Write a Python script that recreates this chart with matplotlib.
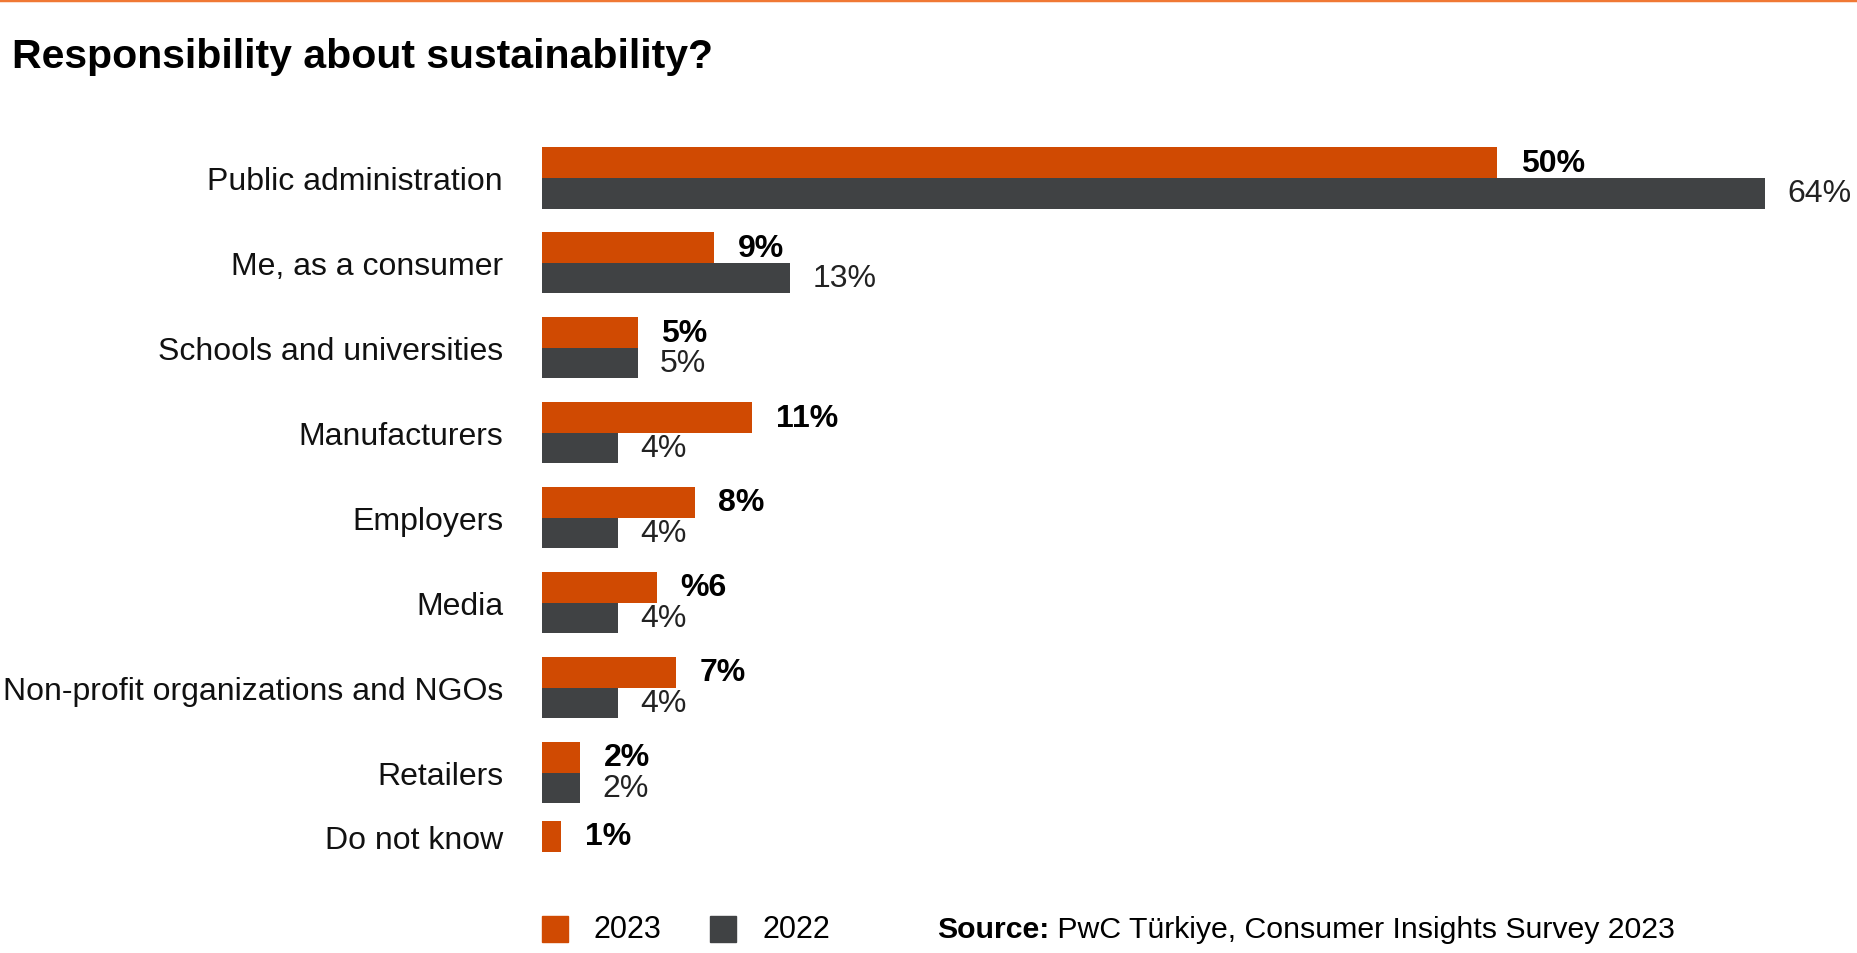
import numpy as np
import matplotlib.pyplot as plt
from matplotlib.patches import Rectangle
from matplotlib.lines import Line2D

plt.rcParams['font.family'] = ['Liberation Sans', 'DejaVu Sans']

# data
categories = ['Public administration', 'Me, as a consumer', 'Schools and universities',
              'Manufacturers', 'Employers', 'Media', 'Non-profit organizations and NGOs',
              'Retailers', 'Do not know']
share_2023 = np.array([50, 9, 5, 11, 8, 6, 7, 2, 1], dtype=float)
share_2022 = np.array([64, 13, 5, 4, 4, 4, 4, 2, np.nan])
labels_2023 = ['50%', '9%', '5%', '11%', '8%', '%6', '7%', '2%', '1%']
labels_2022 = ['64%', '13%', '5%', '4%', '4%', '4%', '4%', '2%', '']

orange = '#D04A02'
dark = '#404244'
top_line = '#F07834'

W, H = 1857, 954
fig = plt.figure(figsize=(W / 100, H / 100), dpi=100)
ax = fig.add_axes([542 / W, 53 / H, (1765 - 542) / W, 773 / H])

y = np.arange(len(categories), dtype=float)
y[-1] -= 0.25  # last row has only one bar, so it sits a bit closer
h = 0.36
has22 = ~np.isnan(share_2022)
y23 = np.where(has22, y - h / 2, y)
y22 = y + h / 2

ax.barh(y23, share_2023, height=h, color=orange)
ax.barh(y22[has22], share_2022[has22], height=h, color=dark)

for i in range(len(categories)):
    ax.annotate(labels_2023[i], xy=(share_2023[i], y23[i]), xytext=(17, 0),
                textcoords='offset points', va='center', ha='left',
                fontsize=23, fontweight='bold', color='black')
    if has22[i]:
        ax.annotate(labels_2022[i], xy=(share_2022[i], y22[i]), xytext=(16, 0),
                    textcoords='offset points', va='center', ha='left',
                    fontsize=23, color='#222222')

ax.set_xlim(0, 64)
ax.set_ylim(8.5, -0.6)
ax.set_xticks([])
ax.set_yticks(y, categories)
ax.tick_params(axis='y', length=0, pad=28, labelsize=23, labelcolor='#111111')
for s in ax.spines.values():
    s.set_visible(False)

# orange rule on top + title
fig.add_artist(Line2D([0, 1], [1 - 1.2 / H] * 2, color=top_line, lw=2.5,
                      transform=fig.transFigure))
fig.text(12 / W, 1 - 57 / H, 'Responsibility about sustainability?',
         fontsize=29.5, fontweight='bold', va='center', ha='left')

# legend swatches
for x0, col, txt, tx in [(541.5, orange, '2023', 593.5), (710, dark, '2022', 762)]:
    fig.add_artist(Rectangle((x0 / W, 1 - 943 / H), 26 / W, 26 / H,
                             color=col, transform=fig.transFigure))
    fig.text(tx / W, 1 - 930 / H, txt, fontsize=22, va='center', ha='left')

src = fig.text(937 / W, 1 - 930 / H, 'Source:', fontsize=21.8, fontweight='bold',
               va='center', ha='left')
ax.annotate(' PwC Türkiye, Consumer Insights Survey 2023', xy=(1, 0), xycoords=src,
            va='bottom', ha='left', fontsize=21.8)

fig.savefig('out.png', dpi=100)
